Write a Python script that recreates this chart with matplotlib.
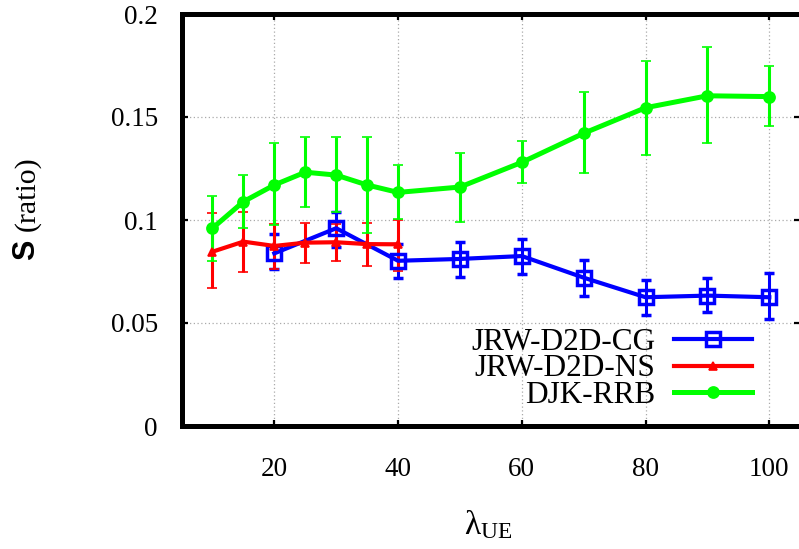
import matplotlib
matplotlib.use("Agg")
import matplotlib.pyplot as plt
from matplotlib.lines import Line2D
import numpy as np

plt.rcParams['font.family'] = ['Liberation Serif', 'DejaVu Serif']
plt.rcParams['mathtext.fontset'] = 'custom'
plt.rcParams['mathtext.rm'] = 'Liberation Serif'
plt.rcParams['mathtext.it'] = 'Liberation Serif:italic'

# Data
x_cg = [20, 30, 40, 50, 60, 70, 80, 90, 100]
y_cg = [0.0838, 0.0960, 0.0802, 0.0811, 0.0825, 0.0720, 0.0625, 0.0633, 0.0625]
lo_cg = [0.0762, 0.0869, 0.0720, 0.0725, 0.0736, 0.0633, 0.0539, 0.0552, 0.0518]
hi_cg = [0.0932, 0.1040, 0.0885, 0.0895, 0.0908, 0.0806, 0.0709, 0.0717, 0.0741]

x_ns = [10, 15, 20, 25, 30, 35, 40]
y_ns = [0.0846, 0.0895, 0.0874, 0.0890, 0.0892, 0.0883, 0.0882]
lo_ns = [0.0668, 0.0749, 0.0762, 0.0790, 0.0802, 0.0778, 0.0752]
hi_ns = [0.1035, 0.1040, 0.0979, 0.0984, 0.0979, 0.0984, 0.1000]

x_rrb = [10, 15, 20, 25, 30, 35, 40, 50, 60, 70, 80, 90, 100]
y_rrb = [0.0960, 0.1089, 0.1170, 0.1232, 0.1218, 0.1170, 0.1134, 0.1160, 0.1280, 0.1421, 0.1545, 0.1603, 0.1599]
lo_rrb = [0.0802, 0.0960, 0.0976, 0.1062, 0.1039, 0.0939, 0.1006, 0.0992, 0.1178, 0.1227, 0.1316, 0.1372, 0.1458]
hi_rrb = [0.1118, 0.1218, 0.1372, 0.1404, 0.1404, 0.1401, 0.1267, 0.1323, 0.1383, 0.1623, 0.1773, 0.1841, 0.1748]

labels = ['JRW-D2D-CG', 'JRW-D2D-NS', 'DJK-RRB']
xticks = [20, 40, 60, 80, 100]
yticks = [0, 0.05, 0.1, 0.15, 0.2]
yticklabels = ['0', '0.05', '0.1', '0.15', '0.2']

W, H = 799, 549
fig = plt.figure(figsize=(W / 100, H / 100), dpi=100)
ax = fig.add_axes([181.5 / W, (H - 426) / H, 618.75 / W, 412 / H])

def yerr(y, lo, hi):
    y = np.array(y); lo = np.array(lo); hi = np.array(hi)
    return [y - lo, hi - y]

series = [
    (x_cg, y_cg, lo_cg, hi_cg, '#0000ff', 's', 9.5, 'none', 2.5, 3.0),
    (x_ns, y_ns, lo_ns, hi_ns, '#ff0000', '^', 5.5, '#ff0000', 1.2, 3.0),
    (x_rrb, y_rrb, lo_rrb, hi_rrb, '#00ff00', 'o', 8, '#00ff00', 1.2, 3.6),
]
handles = []
for (xs, ys, lo, hi, c, m, ms, mfc, mew, lw), lab in zip(series, labels):
    ax.errorbar(xs, ys, yerr=yerr(ys, lo, hi), color=c, marker=m, markersize=ms,
                markerfacecolor=mfc, markeredgecolor=c, markeredgewidth=mew,
                linewidth=lw, elinewidth=2.2, capsize=3.5, capthick=2.2)
    handles.append(Line2D([], [], color=c, marker=m, markersize=ms, markerfacecolor=mfc,
                          markeredgecolor=c, markeredgewidth=mew, linewidth=lw))

ax.set_xlim(5, 105)
ax.set_ylim(0, 0.2)
ax.set_xticks(xticks)
ax.set_yticks(yticks)
ax.set_yticklabels(yticklabels)
ax.grid(True, color='#aaaaaa', linestyle=(0, (1, 2)), linewidth=0.9)
ax.tick_params(axis='both', which='both', direction='in', length=4.5, width=1.6,
               top=True, right=True, labelsize=19.5)
ax.tick_params(axis='y', pad=17)
ax.tick_params(axis='x', pad=22)
for s in ax.spines.values():
    s.set_linewidth(3.6)

fig.text(26 / W, 1 - 250 / H, 'S', rotation=90, ha='center', va='center',
         fontsize=22, fontweight='bold', family='Liberation Sans')
fig.text(27 / W, 1 - 194 / H, '(ratio)', rotation=90, ha='center', va='center', fontsize=21.5)
fig.text(488 / W, 1 - 525 / H, 'λ$_{\\mathrm{UE}}$', ha='center', va='center', fontsize=24)

leg = ax.legend(handles=handles, labels=labels, loc='center right',
                bbox_to_anchor=(752 / W, 1 - 369 / H), bbox_transform=fig.transFigure,
                frameon=False, markerfirst=False, fontsize=22.5, handlelength=2.5,
                handletextpad=0.6, labelspacing=-0.08, borderpad=0, borderaxespad=0)

fig.savefig('out.png', dpi=100)
